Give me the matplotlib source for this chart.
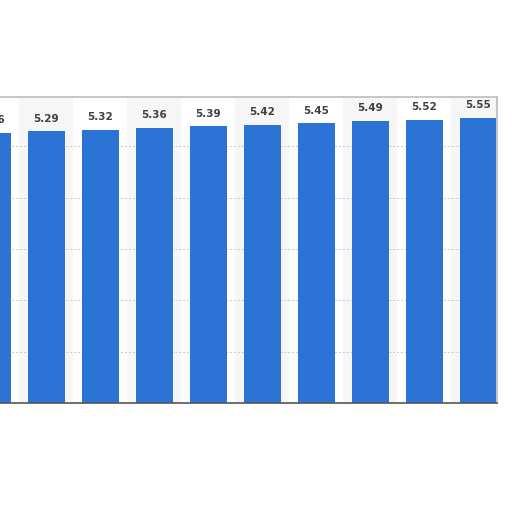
"""
Bar chart of yearly values, cropped view (statista style).
"""
import matplotlib
matplotlib.use('Agg')
import matplotlib.pyplot as plt
import numpy as np

# values (first bar is cut off at the left edge)
values = [5.26, 5.29, 5.32, 5.36, 5.39, 5.42, 5.45, 5.49, 5.52, 5.55]
value_labels = ['5.26', '5.29', '5.32', '5.36', '5.39', '5.42', '5.45',
                '5.49', '5.52', '5.55']
grid_levels = [1, 2, 3, 4, 5]

bar_color = '#2b73d5'
label_color = '#404040'

fig = plt.figure(figsize=(5.12, 5.12), dpi=100)
fig.patch.set_facecolor('white')
# plot area: x 0..497 px, y 97..403 px (from top)
ax = fig.add_axes([0.0, 1 - 403 / 512, 497 / 512, (403 - 97) / 512])
ax.set_facecolor('white')

x = np.arange(len(values))

# alternating column bands
for i in x:
    if i % 2 == 1:
        ax.axvspan(i - 0.5, i + 0.5, color='#f6f6f6', zorder=0, lw=0)

for lvl in grid_levels:
    ax.axhline(lvl, color='#c8c8c8', lw=0.7, ls=(0, (2, 2)), zorder=1)

ax.bar(x, values, width=0.685, color=bar_color, zorder=2)

for xi, v, lab in zip(x, values, value_labels):
    ax.annotate(lab, (xi, v), xytext=(0, 5.5), textcoords='offset points',
                ha='center', va='bottom', fontsize=7.5, fontweight='bold',
                color=label_color, zorder=3, annotation_clip=False)

ax.set_xlim(0.139, 9.343)
ax.set_ylim(0, 5.96)
ax.set_xticks([])
ax.set_yticks([])

ax.spines['left'].set_visible(False)
ax.spines['top'].set_color('#bdbdbd')
ax.spines['top'].set_linewidth(1.2)
ax.spines['right'].set_color('#c4c4c4')
ax.spines['right'].set_linewidth(1.5)
ax.spines['bottom'].set_color('#555555')
ax.spines['bottom'].set_linewidth(1.2)

fig.savefig('out.png', dpi=100, facecolor='white')
